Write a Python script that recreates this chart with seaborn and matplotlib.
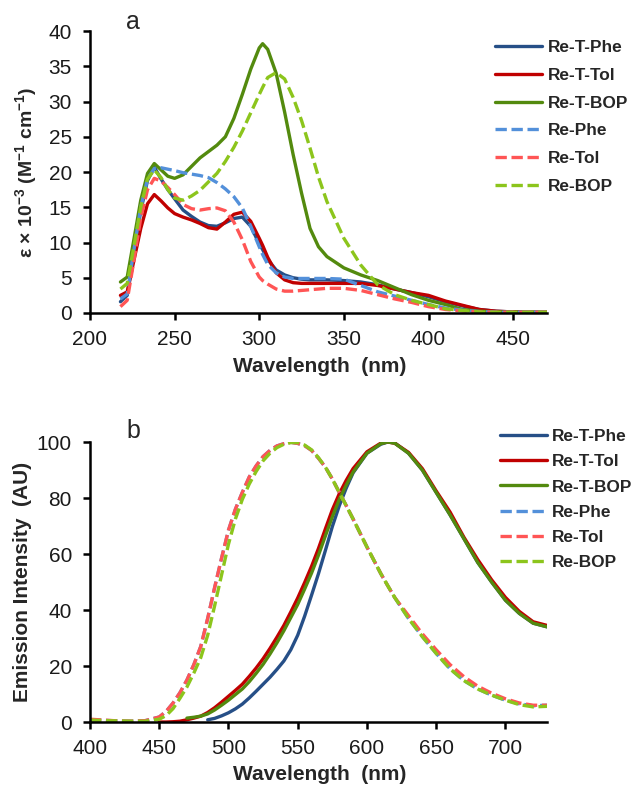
import numpy as np
import pandas as pd
import matplotlib
matplotlib.use("Agg")
import matplotlib.pyplot as plt
import seaborn as sns

# --- dati: assorbimento (pannello a) ---
wl_abs = [218, 222, 226, 230, 234, 238, 242, 246, 250, 255, 260, 265, 270, 275,
          280, 285, 290, 295, 300, 302, 305, 310, 315, 320, 325, 330, 335, 340,
          350, 360, 370, 380, 390, 400, 410, 420, 430, 440, 450, 460, 470]

abs_T_Phe = [1.6, 2.5, 8.5, 14.5, 18.8, 20.7, 19.0, 17.5, 16.2, 14.6, 13.7, 12.9, 12.4, 12.3,
             12.8, 13.4, 13.6, 12.3, 9.8, 9.0, 7.6, 6.1, 5.4, 5.0, 4.8, 4.7, 4.7, 4.7,
             4.6, 4.4, 4.0, 3.4, 2.9, 2.3, 1.6, 1.0, 0.5, 0.25, 0.15, 0.1, 0.1]
abs_T_Tol = [2.5, 3.0, 7.5, 12.0, 15.5, 16.8, 15.9, 14.9, 14.1, 13.6, 13.2, 12.7, 12.1, 11.9,
             12.9, 14.0, 14.3, 13.0, 10.6, 9.6, 7.9, 5.7, 4.7, 4.3, 4.2, 4.2, 4.2, 4.2,
             4.2, 4.2, 3.9, 3.4, 2.9, 2.5, 1.7, 1.1, 0.5, 0.25, 0.15, 0.1, 0.1]
abs_T_BOP = [4.4, 5.1, 10.5, 16.0, 19.8, 21.2, 20.3, 19.4, 19.1, 19.6, 20.8, 22.0, 22.9, 23.8,
             25.0, 27.6, 31.0, 34.6, 37.6, 38.2, 37.4, 34.0, 28.5, 22.5, 17.0, 12.0, 9.4, 8.0,
             6.4, 5.4, 4.6, 3.6, 2.6, 1.8, 1.2, 0.5, 0.25, 0.15, 0.1, 0.1, 0.1]
abs_Phe = [2.0, 2.7, 9.0, 15.0, 19.0, 20.5, 20.6, 20.4, 20.2, 19.9, 19.7, 19.5, 19.2, 18.5,
           17.6, 16.5, 14.9, 12.3, 9.4, 8.3, 6.9, 5.7, 5.1, 4.9, 4.9, 4.9, 4.9, 4.9,
           4.8, 3.9, 3.0, 2.4, 1.8, 1.2, 0.7, 0.4, 0.2, 0.1, 0.1, 0.1, 0.1]
abs_Tol = [0.9, 1.8, 7.5, 13.5, 17.5, 19.1, 18.7, 17.8, 16.8, 15.4, 14.8, 14.6, 14.8, 14.9,
           14.5, 12.9, 10.4, 7.3, 5.1, 4.6, 4.1, 3.4, 3.1, 3.1, 3.2, 3.3, 3.4, 3.5,
           3.5, 3.2, 2.6, 2.0, 1.5, 0.9, 0.5, 0.3, 0.15, 0.1, 0.1, 0.1, 0.1]
abs_BOP = [3.4, 4.2, 9.5, 15.0, 19.0, 20.3, 19.2, 17.5, 16.3, 16.0, 16.6, 17.4, 18.6, 19.8,
           21.5, 23.5, 25.8, 28.4, 31.0, 32.0, 33.4, 34.1, 33.2, 30.6, 27.3, 23.4, 19.3, 15.8,
           10.6, 6.8, 4.0, 2.6, 1.8, 1.2, 0.6, 0.35, 0.15, 0.1, 0.1, 0.1, 0.1]

# --- dati: emissione (pannello b) ---
wl_em = [400, 410, 420, 430, 440, 450, 455, 460, 465, 470, 475, 480, 485, 490, 495,
         500, 505, 510, 515, 520, 525, 530, 535, 540, 545, 550, 555, 560, 565, 570,
         575, 580, 585, 590, 600, 610, 615, 620, 630, 640, 650, 660, 670, 680, 690,
         700, 710, 720, 730]

nan = np.nan
em_T_Phe = [nan, nan, nan, nan, nan, nan, nan, nan, nan, nan, nan, nan, 0.8, 1.3, 2.2,
            3.3, 4.7, 6.4, 8.6, 11.0, 13.5, 16.0, 18.8, 21.8, 25.8, 31.0, 37.8, 45.3, 53.0, 61.3,
            69.8, 77.2, 83.5, 89.0, 96.0, 99.2, 100.0, 99.7, 96.0, 90.0, 82.0, 74.0, 65.5, 57.0, 50.0,
            43.5, 38.8, 35.3, 34.0]
em_T_Tol = [nan, nan, nan, nan, nan, 0.0, 0.0, 0.1, 0.3, 0.8, 1.4, 2.1, 3.4, 5.1, 7.1,
            9.2, 11.3, 13.5, 16.3, 19.3, 22.6, 26.3, 30.3, 34.5, 39.3, 44.3, 49.8, 55.6, 62.0, 69.0,
            75.8, 81.5, 86.3, 90.5, 96.5, 99.6, 100.0, 99.6, 96.3, 90.5, 82.5, 75.0, 66.0, 58.0, 50.8,
            44.5, 39.5, 35.8, 34.5]
em_T_BOP = [nan, nan, nan, nan, nan, nan, nan, nan, nan, 1.4, 1.7, 2.1, 2.9, 4.3, 6.0,
            7.8, 9.8, 11.8, 14.4, 17.4, 20.6, 24.3, 28.3, 32.6, 37.3, 42.0, 47.5, 53.2, 59.6, 66.5,
            73.3, 79.5, 84.6, 89.3, 96.0, 99.4, 100.0, 99.6, 96.0, 90.0, 82.0, 74.0, 65.5, 57.0, 50.0,
            43.5, 38.8, 35.3, 34.0]
em_Phe = [0.8, 0.6, 0.4, 0.3, 0.5, 1.8, 3.8, 6.8, 10.5, 15.0, 20.5, 27.0, 37.0, 48.0, 58.5,
          68.5, 76.0, 82.0, 87.5, 91.5, 94.8, 97.0, 98.6, 99.4, 99.9, 99.5, 98.7, 97.0, 94.2, 91.0,
          86.8, 82.0, 77.3, 72.5, 62.5, 53.0, 48.7, 44.5, 37.0, 30.5, 24.5, 19.0, 14.8, 11.8, 9.6,
          7.8, 6.5, 5.8, 6.0]
em_Tol = [1.0, 0.7, 0.4, 0.3, 0.5, 1.8, 3.8, 6.8, 10.5, 15.0, 20.5, 27.0, 37.0, 48.0, 58.5,
          68.5, 76.0, 82.0, 87.5, 91.5, 94.8, 97.0, 98.6, 99.4, 99.9, 99.5, 98.7, 97.0, 94.2, 91.0,
          86.8, 82.0, 77.3, 72.5, 62.5, 53.0, 48.7, 44.5, 38.0, 31.5, 25.8, 20.5, 16.2, 12.8, 10.3,
          8.3, 6.8, 6.0, 6.0]
em_BOP = [0.7, 0.5, 0.4, 0.3, 0.3, 1.0, 2.3, 4.8, 8.5, 12.5, 17.5, 23.0, 31.0, 41.5, 52.5,
          63.5, 72.5, 79.5, 85.0, 89.5, 93.3, 96.0, 98.0, 99.2, 99.8, 99.8, 98.9, 97.2, 94.4, 91.0,
          86.8, 82.0, 77.3, 72.5, 62.5, 53.0, 48.7, 44.5, 37.0, 30.5, 24.5, 19.0, 14.8, 11.8, 9.6,
          7.8, 6.2, 5.4, 5.6]

nomi = ["Re-T-Phe", "Re-T-Tol", "Re-T-BOP", "Re-Phe", "Re-Tol", "Re-BOP"]
colori = ["#264F87", "#C00000", "#538A0E", "#5390DA", "#FF5555", "#8CC51C"]
tratteggi = ["-", "-", "-", (0, (3.4, 1.4)), (0, (3.4, 1.4)), (0, (3.4, 1.4))]

serie_abs = [abs_T_Phe, abs_T_Tol, abs_T_BOP, abs_Phe, abs_Tol, abs_BOP]
serie_em = [em_T_Phe, em_T_Tol, em_T_BOP, em_Phe, em_Tol, em_BOP]

# --- stile ---
sns.set_theme(style="ticks")
plt.rcParams["font.family"] = ["Liberation Sans", "DejaVu Sans"]
plt.rcParams["mathtext.fontset"] = "custom"
plt.rcParams["mathtext.rm"] = "Liberation Sans:bold"
plt.rcParams["mathtext.default"] = "rm"

fig = plt.figure(figsize=(6.35, 7.91), dpi=100)
ax_a = fig.add_axes([0.1417, 0.6043, 0.7197, 0.3565])
ax_b = fig.add_axes([0.1417, 0.0872, 0.7197, 0.354])


def disegna(ax, wl, serie):
    for nome, col, ls, vals in zip(nomi, colori, tratteggi, serie):
        sns.lineplot(x=wl, y=vals, color=col, linestyle=ls, linewidth=2.4,
                     label=nome, ax=ax)


disegna(ax_a, wl_abs, serie_abs)
disegna(ax_b, wl_em, serie_em)

for ax in (ax_a, ax_b):
    sns.despine(ax=ax)
    for s in ("left", "bottom"):
        ax.spines[s].set_linewidth(1.8)
        ax.spines[s].set_color("black")
    ax.tick_params(axis="both", labelsize=15, length=5, width=1.8,
                   color="black", labelcolor="#1a1a1a")
    ax.tick_params(axis="x", pad=7)
    ax.tick_params(axis="y", pad=8)
    ax.set_xlabel("Wavelength  (nm)", fontsize=15, fontweight="bold")
    ax.xaxis.set_label_coords(0.503, -0.155)

# pannello a
ax_a.set_xlim(200, 470)
ax_a.set_ylim(0, 40)
ax_a.set_xticks(range(200, 451, 50))
ax_a.set_yticks(range(0, 41, 5))
ax_a.set_ylabel(r"ε × 10$^{-3}$ (M$^{-1}$ cm$^{-1}$)", fontsize=14, fontweight="bold")
ax_a.yaxis.set_label_coords(-0.111, 0.5)

# pannello b
ax_b.set_xlim(400, 730)
ax_b.set_ylim(0, 100)
ax_b.set_xticks(range(400, 701, 50))
ax_b.set_yticks(range(0, 101, 20))
ax_b.set_ylabel("Emission Intensity  (AU)", fontsize=15, fontweight="bold")
ax_b.yaxis.set_label_coords(-0.127, 0.5)

# legende
ax_a.legend(loc="upper left", bbox_to_anchor=(0.7795, 0.9494), bbox_transform=fig.transFigure,
            frameon=False, prop={"weight": "bold", "size": 12.4}, handlelength=2.75,
            handletextpad=0.3, labelspacing=0.74, borderpad=0, borderaxespad=0)
ax_b.legend(loc="upper left", bbox_to_anchor=(0.787, 0.4576), bbox_transform=fig.transFigure,
            frameon=False, prop={"weight": "bold", "size": 12.4}, handlelength=2.75,
            handletextpad=0.3, labelspacing=0.59, borderpad=0, borderaxespad=0)

fig.text(133 / 635, 1 - 22 / 791, "a", fontsize=18, ha="center", va="center")
fig.text(133 / 635, 1 - 431 / 791, "b", fontsize=18, ha="center", va="center")

fig.savefig("out.png", dpi=100)
